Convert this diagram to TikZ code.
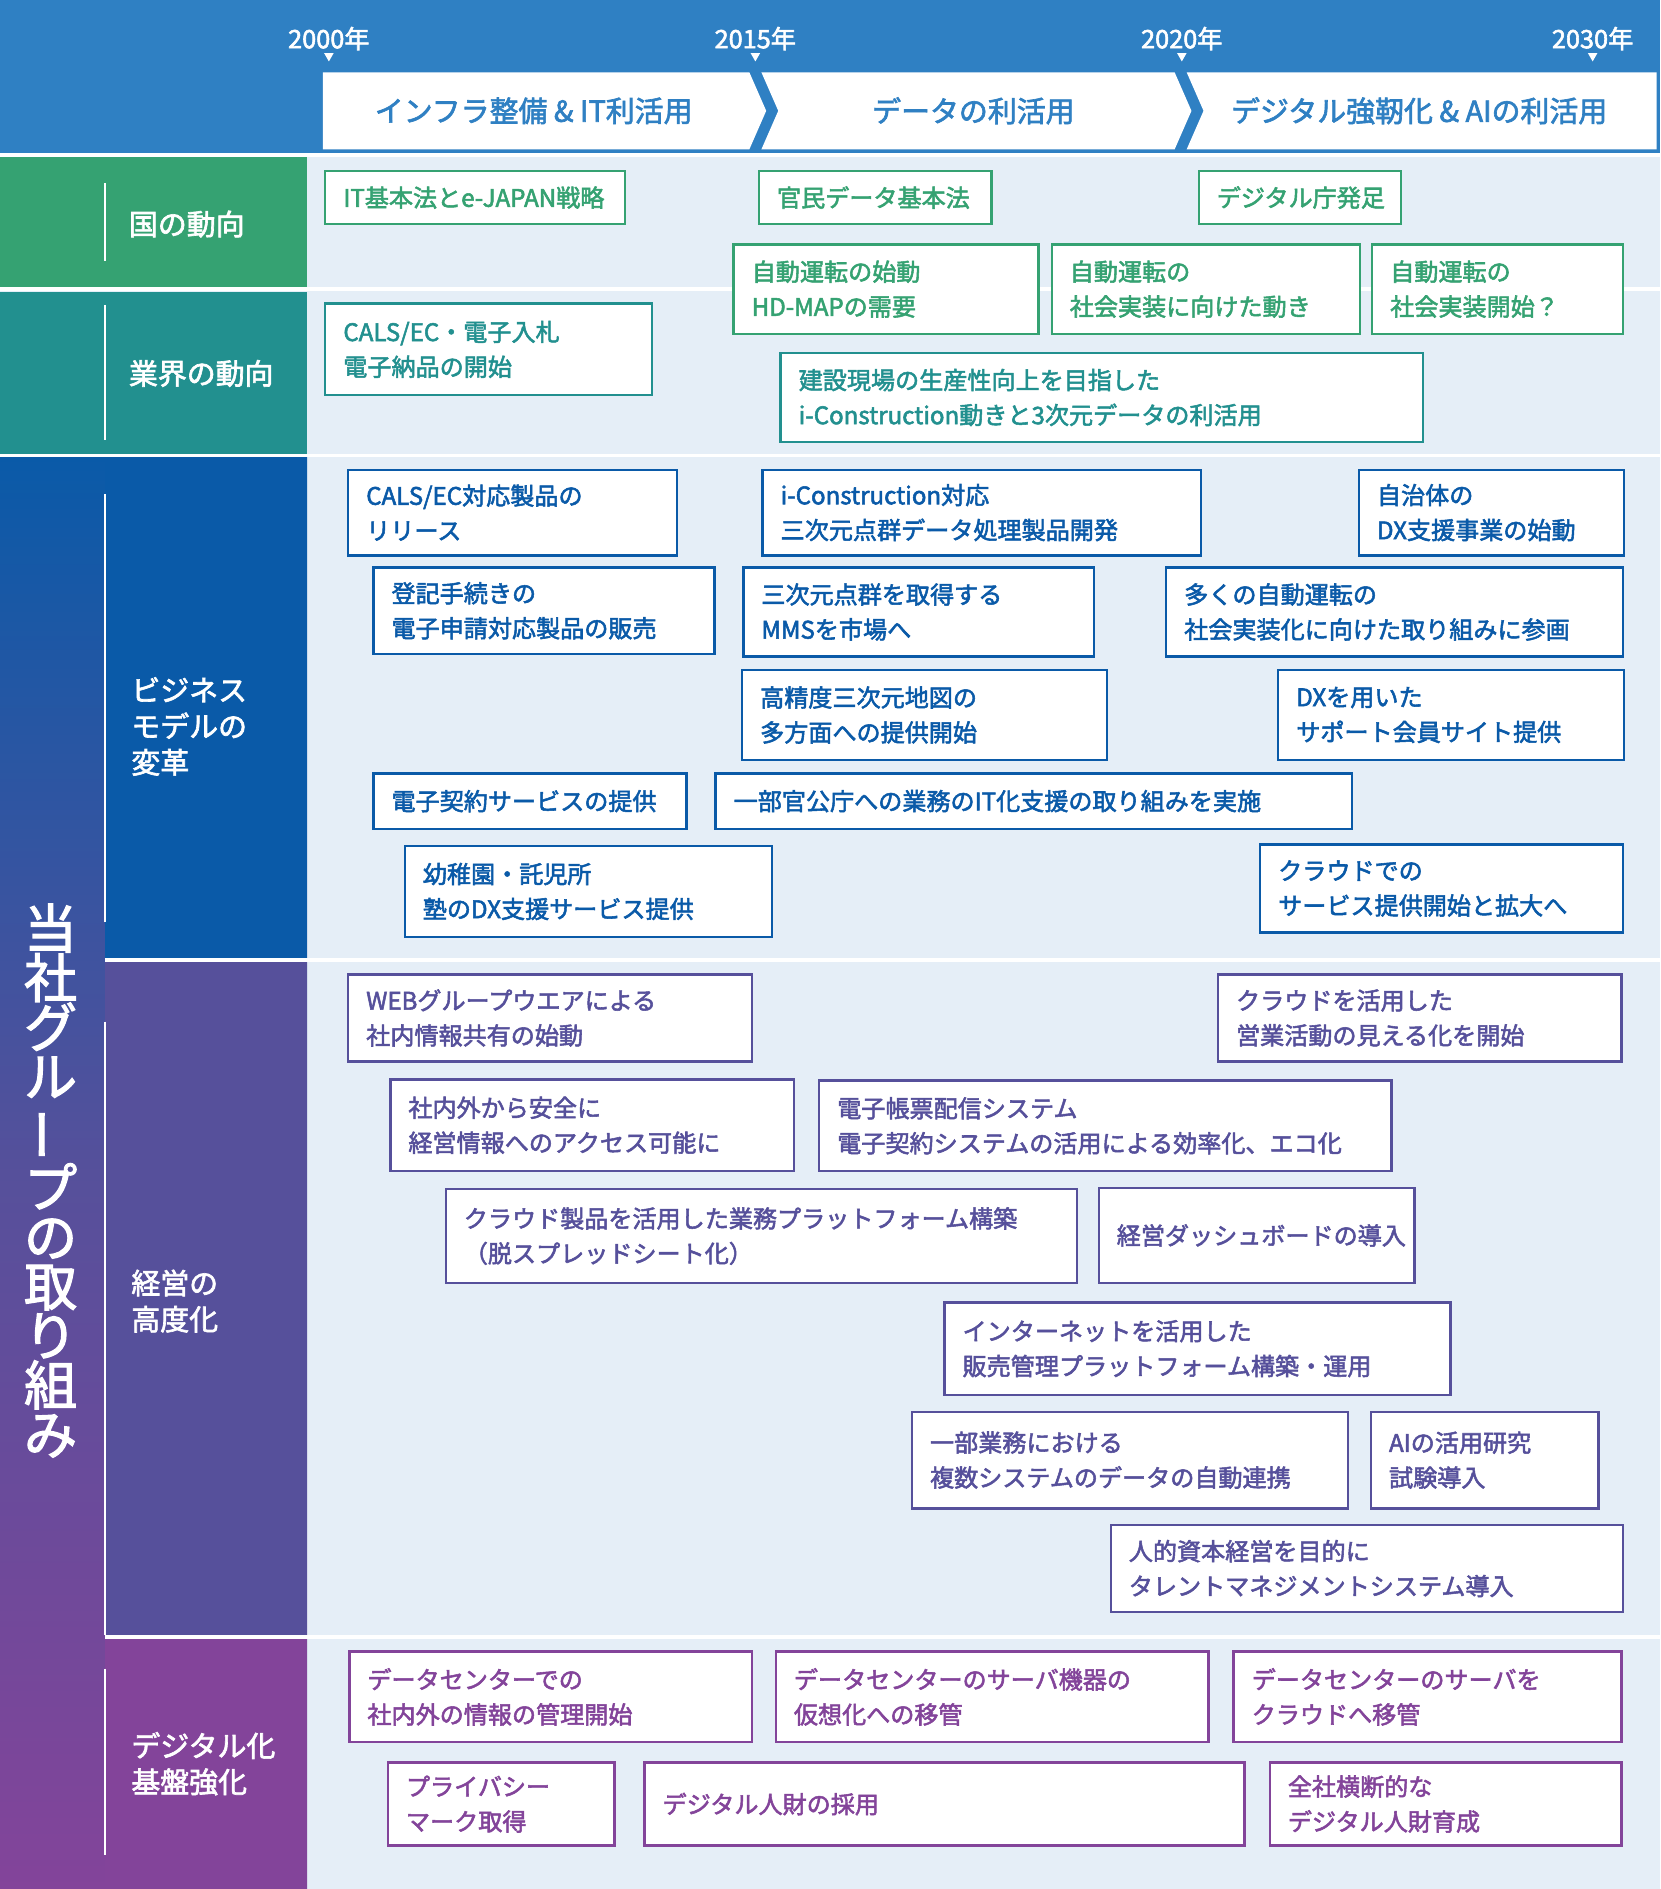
\documentclass[tikz,border=0pt]{standalone}
\usepackage{fontspec}
\setmainfont{Noto Sans CJK JP}[AutoFakeBold=2.2]
\usetikzlibrary{positioning}
\definecolor{hdblue}{HTML}{2F80C3}
\definecolor{bgblue}{HTML}{E5EEF7}
\definecolor{cgreen}{HTML}{35A272}
\definecolor{cteal}{HTML}{22908F}
\definecolor{cblue}{HTML}{0A5AA8}
\definecolor{cpurple}{HTML}{56509B}
\definecolor{cviolet}{HTML}{83449A}
\tikzset{
  box/.style   = {draw, line width=1pt, fill=white, inner sep=0pt,
                  align=left, font=\bfseries\fontsize{10}{14.5}\selectfont},
  natbox/.style = {box, draw=cgreen, text=cgreen},
  indbox/.style = {box, draw=cteal, text=cteal},
  bizbox/.style = {box, draw=cblue, text=cblue},
  mgtbox/.style = {box, draw=cpurple, text=cpurple},
  digbox/.style = {box, draw=cviolet, text=cviolet},
  rowlabel/.style = {text=white, anchor=west, align=left,
                     font=\bfseries\fontsize{12}{15}\selectfont},
  yearlabel/.style = {text=white, font=\bfseries\fontsize{10.5}{12}\selectfont},
  phase/.style = {text=hdblue, font=\bfseries\fontsize{12}{14}\selectfont},
}
% box from corner (x1,y1) to (x2,y2), reference pixels
\newcommand\bx[7]{%
  \pgfmathsetmacro\bxw{(#5-#3)*0.5}%
  \pgfmathsetmacro\bxh{(#6-#4)*0.5}%
  \pgfmathsetmacro\bxt{(#5-#3)*0.5-15}%
  \node[#2, minimum width=\bxw pt, minimum height=\bxh pt, text width=\bxt pt]
    (#1) at ({(#3+#5)/2},{(#4+#6)/2}) {#7};}
\begin{document}
\begin{tikzpicture}[x=0.5pt,y=-0.5pt]
  \useasboundingbox (0,0) rectangle (1378,1568);
  % background
  \fill[bgblue] (0,130) rectangle (1378,1568);
  \fill[hdblue] (0,0) rectangle (1378,127);
  \fill[cgreen] (0,130) rectangle (255,240);
  \fill[cteal] (0,242) rectangle (255,377);
  \shade[top color=cblue, bottom color=cviolet, middle color=cpurple]
    (0,379) rectangle (255,1568);
  \fill[cblue] (87,379) rectangle (255,797);
  \fill[cpurple] (87,797) rectangle (255,1359);
  \fill[cviolet] (87,1359) rectangle (255,1568);
  \draw[white, line width=1.5pt] (0,240) -- (1378,240);
  \draw[white, line width=1.5pt] (0,378) -- (1378,378);
  \draw[white, line width=1.5pt] (87,797) -- (1378,797);
  \draw[white, line width=1.5pt] (87,1359) -- (1378,1359);
  \foreach \ya/\yb in {152/217, 253/365, 410/765, 848/1357, 1385/1540}
    \draw[white, line width=1pt] (87,\ya) -- (87,\yb);
  % timeline
  \foreach \x/\yr in {273/2000, 627/2015, 981/2020, 1322/2030} {
    \node[yearlabel] (y\yr) at (\x,32) {\yr 年};
    \fill[white] (\x-4,44) -- (\x+4,44) -- (\x,51) -- cycle;
  }
  \fill[white] (268,60) -- (622,60) -- (636,92) -- (622,124) -- (268,124) -- cycle;
  \fill[white] (632,60) -- (975,60) -- (989,92) -- (975,124) -- (632,124) -- (646,92) -- cycle;
  \fill[white] (985,60) -- (1375,60) -- (1375,124) -- (985,124) -- (999,92) -- cycle;
  \node[phase] (ph1) at (443,92) {インフラ整備 \& IT利活用};
  \node[phase] (ph2) at (808,92) {データの利活用};
  \node[phase] (ph3) at (1178,92) {デジタル強靭化 \& AIの利活用};
  % row labels
  \node[rowlabel] (lnat) at (100,186) {国の動向};
  \node[rowlabel] (lind) at (100,310) {業界の動向};
  \node[rowlabel] (lbiz) at (102,603) {ビジネス\\モデルの\\変革};
  \node[rowlabel] (lmgt) at (102,1080) {経営の\\高度化};
  \node[rowlabel] (ldig) at (102,1464) {デジタル化\\基盤強化};
  \node[text=white, align=center, font=\bfseries\fontsize{22}{20.5}\selectfont]
    (lgroup) at (42,980) {当\\社\\グ\\ル\\\rotatebox[origin=c]{90}{ー}\\プ\\の\\取\\り\\組\\み};
  % national
  \bx{n1}{natbox}{270}{142}{519}{186}{IT基本法とe-JAPAN戦略}
  \bx{n2}{natbox}{630}{142}{823}{186}{官民データ基本法}
  \bx{n3}{natbox}{995}{142}{1163}{186}{デジタル庁発足}
  \bx{n4}{natbox}{609}{203}{862}{277}{自動運転の始動\\HD-MAPの需要}
  \bx{n5}{natbox}{873}{203}{1129}{277}{自動運転の\\社会実装に向けた動き}
  \bx{n6}{natbox}{1139}{203}{1347}{277}{自動運転の\\社会実装開始？}
  % industry
  \bx{i1}{indbox}{270}{252}{541}{328}{CALS/EC・電子入札\\電子納品の開始}
  \bx{i2}{indbox}{648}{293}{1181}{367}{建設現場の生産性向上を目指した\\i-Construction動きと3次元データの利活用}
  % business model
  \bx{b1}{bizbox}{289}{390}{562}{461}{CALS/EC対応製品の\\リリース}
  \bx{b2}{bizbox}{633}{390}{997}{461}{i-Construction対応\\三次元点群データ処理製品開発}
  \bx{b3}{bizbox}{1128}{390}{1348}{461}{自治体の\\DX支援事業の始動}
  \bx{b4}{bizbox}{310}{471}{593}{543}{登記手続きの\\電子申請対応製品の販売}
  \bx{b5}{bizbox}{617}{471}{908}{545}{三次元点群を取得する\\MMSを市場へ}
  \bx{b6}{bizbox}{968}{471}{1347}{545}{多くの自動運転の\\社会実装化に向けた取り組みに参画}
  \bx{b7}{bizbox}{616}{556}{919}{631}{高精度三次元地図の\\多方面への提供開始}
  \bx{b8}{bizbox}{1061}{556}{1348}{631}{DXを用いた\\サポート会員サイト提供}
  \bx{b9}{bizbox}{310}{642}{570}{688}{電子契約サービスの提供}
  \bx{b10}{bizbox}{594}{642}{1122}{688}{一部官公庁への業務のIT化支援の取り組みを実施}
  \bx{b11}{bizbox}{336}{702}{641}{778}{幼稚園・託児所\\塾のDX支援サービス提供}
  \bx{b12}{bizbox}{1046}{701}{1347}{774}{クラウドでの\\サービス提供開始と拡大へ}
  % management
  \bx{m1}{mgtbox}{289}{809}{624}{881}{WEBグループウエアによる\\社内情報共有の始動}
  \bx{m2}{mgtbox}{1011}{809}{1346}{881}{クラウドを活用した\\営業活動の見える化を開始}
  \bx{m3}{mgtbox}{324}{896}{659}{972}{社内外から安全に\\経営情報へのアクセス可能に}
  \bx{m4}{mgtbox}{680}{897}{1155}{972}{電子帳票配信システム\\電子契約システムの活用による効率化、エコ化}
  \bx{m5}{mgtbox}{370}{987}{894}{1065}{クラウド製品を活用した業務プラットフォーム構築\\（脱スプレッドシート化）}
  \bx{m6}{mgtbox}{912}{986}{1174}{1065}{経営ダッシュボードの導入}
  \bx{m7}{mgtbox}{784}{1081}{1204}{1158}{インターネットを活用した\\販売管理プラットフォーム構築・運用}
  \bx{m8}{mgtbox}{757}{1172}{1119}{1252}{一部業務における\\複数システムのデータの自動連携}
  \bx{m9}{mgtbox}{1138}{1172}{1327}{1252}{AIの活用研究\\試験導入}
  \bx{m10}{mgtbox}{922}{1266}{1347}{1338}{人的資本経営を目的に\\タレントマネジメントシステム導入}
  % digital base
  \bx{d1}{digbox}{290}{1371}{624}{1446}{データセンターでの\\社内外の情報の管理開始}
  \bx{d2}{digbox}{644}{1371}{1003}{1446}{データセンターのサーバ機器の\\仮想化への移管}
  \bx{d3}{digbox}{1024}{1371}{1346}{1446}{データセンターのサーバを\\クラウドへ移管}
  \bx{d4}{digbox}{322}{1463}{510}{1532}{プライバシー\\マーク取得}
  \bx{d5}{digbox}{535}{1463}{1033}{1532}{デジタル人財の採用}
  \bx{d6}{digbox}{1054}{1463}{1346}{1532}{全社横断的な\\デジタル人財育成}
\end{tikzpicture}
\end{document}
